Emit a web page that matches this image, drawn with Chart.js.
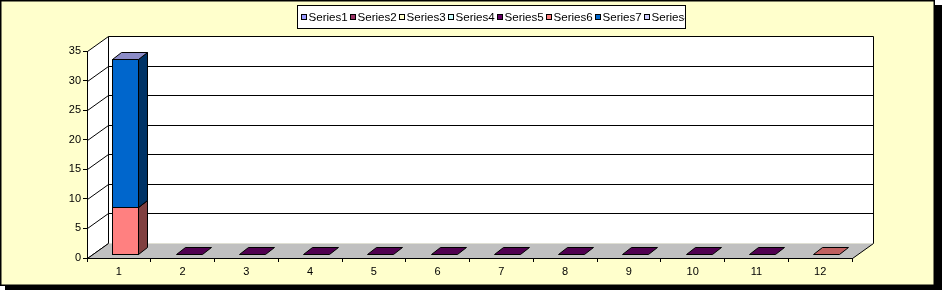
<!DOCTYPE html>
<html>
<head>
<meta charset="utf-8">
<script src="https://cdn.jsdelivr.net/npm/chart.js@4/dist/chart.umd.min.js"></script>
<style>
  html, body { margin: 0; padding: 0; background: #ffffff; }
  canvas { display: block; }
</style>
</head>
<body>
<canvas id="c" width="942" height="290"></canvas>
<script>
// ---- data ----
const categories = ['1', '2', '3', '4', '5', '6', '7', '8', '9', '10', '11', '12'];
const seriesNames = ['Series1', 'Series2', 'Series3', 'Series4', 'Series5', 'Series6', 'Series7', 'Series8'];
const series1 = [null, null, null, null, null, null, null, null, null, null, null, null];
const series2 = [null, null, null, null, null, null, null, null, null, null, null, null];
const series3 = [null, null, null, null, null, null, null, null, null, null, null, null];
const series4 = [null, null, null, null, null, null, null, null, null, null, null, null];
const series5 = [null, 0, 0, 0, 0, 0, 0, 0, 0, 0, 0, null];
const series6 = [8, null, null, null, null, null, null, null, null, null, null, 0];
const series7 = [25, null, null, null, null, null, null, null, null, null, null, null];
const series8 = [null, null, null, null, null, null, null, null, null, null, null, null];
const yTicks = [0, 5, 10, 15, 20, 25, 30, 35];

// ---- styles ----
const frontColors = ['#9999FF', '#993366', '#FFFFCC', '#CCFFFF', '#660066', '#FF8080', '#0066CC', '#CCCCFF'];
const sideColors  = ['#4C4C80', '#4C1933', '#808066', '#668080', '#330033', '#804040', '#003366', '#666680'];
const topColors   = ['#B3B3FF', '#7A2952', '#E6E6B8', '#B8E6E6', '#500050', '#C06060', '#8C8CC8', '#B8B8E6'];
const FONT = '"Liberation Sans", Arial, sans-serif';
const WALL_DX = 21, WALL_DY = -15;   // depth of the 3D walls
const BAR_OX = 6, BAR_OY = -4;       // bar front plane offset
const BAR_DX = 9, BAR_DY = -7;       // bar depth

const allSeries = [series1, series2, series3, series4, series5, series6, series7, series8];

function line(ctx, x1, y1, x2, y2) {
  ctx.beginPath(); ctx.moveTo(x1, y1); ctx.lineTo(x2, y2); ctx.stroke();
}
function poly(ctx, pts, fill) {
  ctx.beginPath();
  ctx.moveTo(pts[0][0], pts[0][1]);
  for (let i = 1; i < pts.length; i++) ctx.lineTo(pts[i][0], pts[i][1]);
  ctx.closePath();
  ctx.fillStyle = fill; ctx.fill();
  ctx.strokeStyle = '#000'; ctx.lineWidth = 1; ctx.stroke();
}

const scenePlugin = {
  id: 'scene',
  beforeDraw(chart) {
    const ctx = chart.ctx;
    const ca = chart.chartArea;
    const ys = chart.scales.y;
    ctx.save();
    // frame with shadow
    ctx.fillStyle = '#000';
    ctx.fillRect(5, 5, 937, 285);
    ctx.fillStyle = '#FFFFCC';
    ctx.fillRect(0, 0, 935, 286);
    ctx.strokeStyle = '#000'; ctx.lineWidth = 1.5;
    ctx.strokeRect(0.75, 0.75, 933.5, 284.5);

    // legend
    const lx = 297, ly = 5, lw = 389, lh = 24;
    ctx.fillStyle = '#fff';
    ctx.fillRect(lx, ly, lw, lh);
    ctx.save();
    ctx.beginPath(); ctx.rect(lx, ly, lw - 1, lh); ctx.clip();
    ctx.font = '11.6px ' + FONT;
    ctx.textBaseline = 'middle';
    chart.data.datasets.forEach((ds, i) => {
      const x = lx + 4 + 49 * i;
      ctx.fillStyle = frontColors[i];
      ctx.fillRect(x + 0.5, ly + 9.5, 5, 5);
      ctx.strokeStyle = '#000'; ctx.lineWidth = 1;
      ctx.strokeRect(x + 0.5, ly + 9.5, 5, 5);
      ctx.fillStyle = '#000';
      ctx.fillText(ds.label, x + 7.5, ly + 12.5);
    });
    ctx.restore();
    ctx.strokeStyle = '#000'; ctx.lineWidth = 1;
    ctx.strokeRect(lx + 0.5, ly + 0.5, lw - 1, lh - 1);

    // walls
    const L = Math.round(ca.left) + 0.5, R = Math.round(ca.right) + 0.5;
    const T = Math.round(ca.top) + 0.5, B = Math.round(ca.bottom) + 0.5;
    ctx.fillStyle = '#fff';
    ctx.fillRect(L + WALL_DX, T + WALL_DY, R - L, B - T);
    ctx.beginPath();
    ctx.moveTo(L, T); ctx.lineTo(L + WALL_DX, T + WALL_DY);
    ctx.lineTo(L + WALL_DX, B + WALL_DY); ctx.lineTo(L, B); ctx.closePath();
    ctx.fill();

    ctx.strokeStyle = '#000'; ctx.lineWidth = 1;
    yTicks.forEach(v => {
      const y = Math.round(ys.getPixelForValue(v)) + 0.5;
      if (v !== 0) line(ctx, L + WALL_DX, y + WALL_DY, R + WALL_DX, y + WALL_DY);
      line(ctx, L, y, L + WALL_DX, y + WALL_DY);
    });
    line(ctx, L + WALL_DX, T + WALL_DY, L + WALL_DX, B + WALL_DY);
    line(ctx, R + WALL_DX, T + WALL_DY, R + WALL_DX, B + WALL_DY);

    // floor
    ctx.fillStyle = '#C0C0C0';
    ctx.beginPath();
    ctx.moveTo(L, B); ctx.lineTo(R, B);
    ctx.lineTo(R + WALL_DX, B + WALL_DY); ctx.lineTo(L + WALL_DX, B + WALL_DY);
    ctx.closePath(); ctx.fill();
    line(ctx, L, B, L + WALL_DX, B + WALL_DY);
    line(ctx, R, B, R + WALL_DX, B + WALL_DY);
    ctx.restore();
  },
  afterDatasetsDraw(chart) {
    const ctx = chart.ctx;
    ctx.save();
    ctx.lineWidth = 1; ctx.strokeStyle = '#000'; ctx.lineJoin = 'miter';
    for (let c = 0; c < categories.length; c++) {
      chart.data.datasets.forEach((ds, i) => {
        const v = ds.data[c];
        if (v === null || v === undefined) return;
        const el = chart.getDatasetMeta(i).data[c];
        if (!el) return;
        const p = el.getProps(['x', 'y', 'base', 'width'], true);
        const x0 = Math.round(p.x - p.width / 2 + BAR_OX) + 0.5;
        const x1 = Math.round(p.x + p.width / 2 + BAR_OX) + 0.5;
        const yT = Math.round(p.y + BAR_OY) + 0.5;
        const yB = Math.round(p.base + BAR_OY) + 0.5;
        if (yB - yT > 0.5) {
          ctx.fillStyle = frontColors[i];
          ctx.fillRect(x0, yT, x1 - x0, yB - yT);
          ctx.strokeRect(x0, yT, x1 - x0, yB - yT);
          poly(ctx, [[x1, yB], [x1 + BAR_DX, yB + BAR_DY], [x1 + BAR_DX, yT + BAR_DY], [x1, yT]], sideColors[i]);
        }
        poly(ctx, [[x0, yT], [x0 + BAR_DX, yT + BAR_DY], [x1 + BAR_DX, yT + BAR_DY], [x1, yT]], topColors[i]);
      });
    }
    ctx.restore();
  }
};

new Chart(document.getElementById('c'), {
  type: 'bar',
  data: {
    labels: categories,
    datasets: seriesNames.map((name, i) => ({
      label: name,
      data: allSeries[i],
      backgroundColor: 'rgba(0,0,0,0)',
      borderWidth: 0,
      barPercentage: 0.41,
      categoryPercentage: 1,
      stack: 'all'
    }))
  },
  options: {
    responsive: false,
    animation: false,
    devicePixelRatio: 1,
    layout: { padding: { left: 0, right: 90, top: 51, bottom: 0 } },
    plugins: { legend: { display: false }, tooltip: { enabled: false } },
    scales: {
      x: {
        stacked: true,
        grid: { offset: true, drawOnChartArea: false, drawTicks: true, tickLength: 4, color: '#000', lineWidth: 1 },
        border: { display: true, color: '#000', width: 1 },
        ticks: { color: '#000', font: { family: FONT, size: 11 }, padding: 3, maxRotation: 0, autoSkip: false },
        afterFit(s) { s.height = 32; }
      },
      y: {
        stacked: true,
        min: 0, max: 35,
        afterBuildTicks(s) { s.ticks = yTicks.map(v => ({ value: v })); },
        grid: { drawOnChartArea: false, drawTicks: true, tickLength: 4, color: '#000', lineWidth: 1 },
        border: { display: true, color: '#000', width: 1 },
        ticks: { color: '#000', font: { family: FONT, size: 11 }, padding: 2 },
        afterFit(s) { s.width = 87; }
      }
    }
  },
  plugins: [scenePlugin]
});
</script>
</body>
</html>
